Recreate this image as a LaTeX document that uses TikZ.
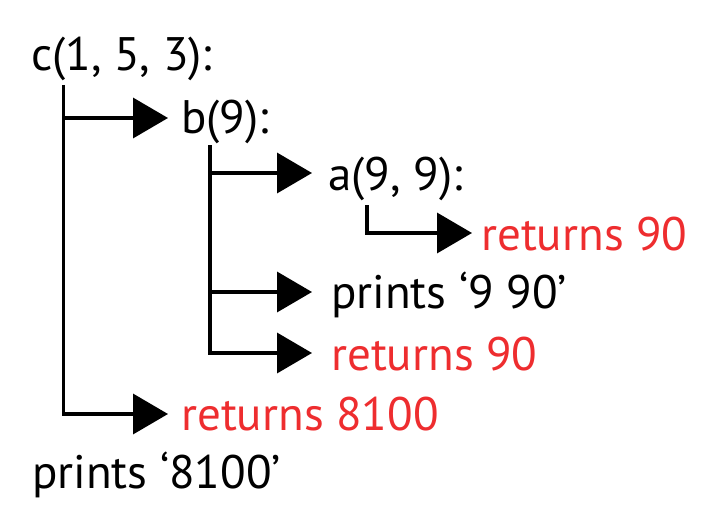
\documentclass[tikz,border=0pt]{standalone}
\usepackage{fontspec}
\setmainfont{PT Sans}
\usetikzlibrary{arrows.meta}
\definecolor{retred}{RGB}{238,45,47}
\begin{document}
\begin{tikzpicture}[x=1pt,y=-1pt,
  lbl/.style={anchor=base west, inner sep=0pt, font=\fontsize{47}{52}\selectfont},
  ret/.style={lbl, text=retred},
  wire/.style={line width=3.6pt},
  arr/.style={wire, -{Triangle[length=35pt,width=40pt]}}]
\useasboundingbox (0,0) rectangle (714,532);
% texts
\node[lbl] (c) at (31,71) {c(1, 5, 3):};
\node[lbl] (b) at (181,133) {b(9):};
\node[lbl] (a) at (328,190) {a(9, 9):};
\node[ret] (ra) at (481,250) {returns 90};
\node[lbl] (pb) at (331,308) {prints ‘9 90’};
\node[ret] (rb) at (331,370) {returns 90};
\node[ret] (rc) at (181,430) {returns 8100};
\node[lbl] (pc) at (32,488) {prints ‘8100’};
% junctions
\coordinate (ctop) at (63.5,85);
\coordinate (cj) at (63.5,118);
\coordinate (cb) at (168,118);
\coordinate (crc) at (168,414);
\coordinate (btop) at (210,145);
\coordinate (bj1) at (210,173);
\coordinate (bj2) at (210,292);
\coordinate (ba) at (312,173);
\coordinate (bpb) at (312,292);
\coordinate (brb) at (312,353);
\coordinate (atop) at (367,205);
\coordinate (ara) at (472,233);
% connectors
\draw[arr] (ctop) |- (crc);
\draw[arr] (cj) -- (cb);
\draw[arr] (btop) |- (brb);
\draw[arr] (bj1) -- (ba);
\draw[arr] (bj2) -- (bpb);
\draw[arr] (atop) |- (ara);
\end{tikzpicture}
\end{document}
